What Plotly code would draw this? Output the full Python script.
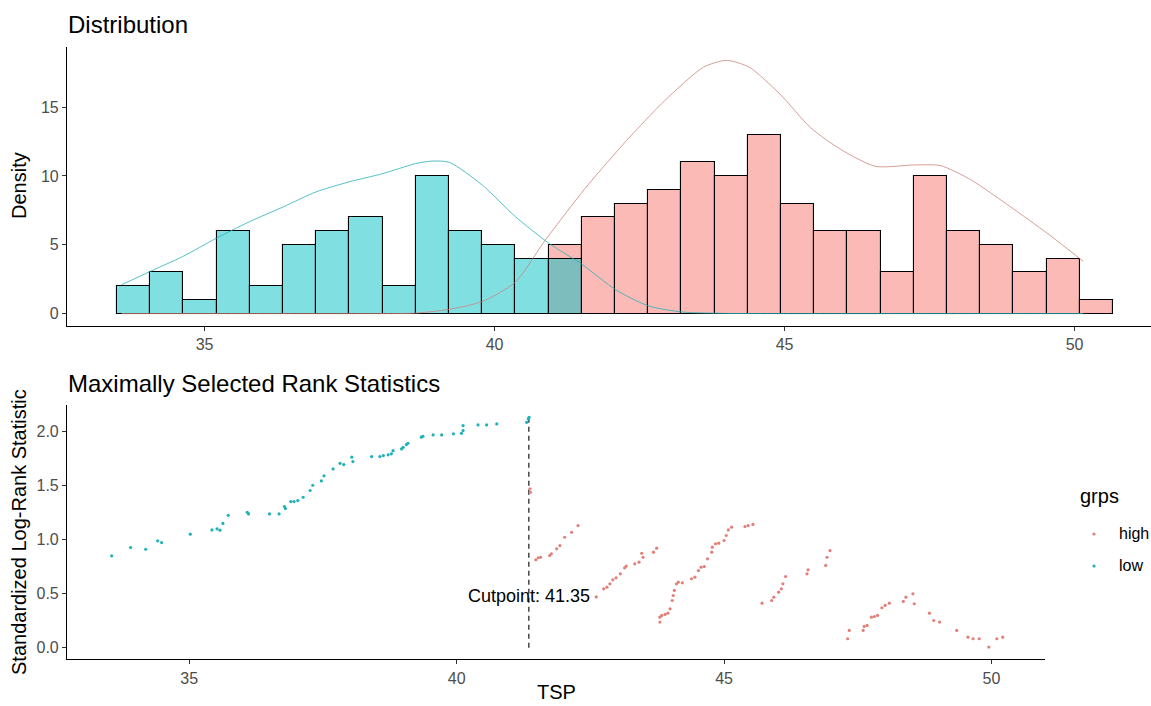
import plotly.graph_objects as go

# ---------------- data ----------------
# Histogram of TSP by group, 30 shared bins
bin_start = 33.49
bin_width = 0.5724
high_counts = [0, 0, 0, 0, 0, 0, 0, 0, 0, 0, 0, 0, 0, 5, 7, 8, 9, 11, 10, 13,
               8, 6, 6, 3, 10, 6, 5, 3, 4, 1]
low_counts = [2, 3, 1, 6, 2, 5, 6, 7, 2, 10, 6, 5, 4, 4, 0, 0, 0, 0, 0, 0,
              0, 0, 0, 0, 0, 0, 0, 0, 0, 0]

# Scaled density curves
high_dens_x = [33.57, 36.0, 37.8, 38.6, 39.2, 39.8, 40.36, 40.85, 41.3, 41.62,
               42.28, 42.94, 43.6, 44.0, 44.39, 44.92, 45.45, 45.98, 46.57,
               47.23, 47.69, 48.22, 48.88, 49.54, 50.15]
high_dens_y = [0.0, 0.0, 0.0, 0.03, 0.3, 0.9, 2.3, 5.2, 7.7, 9.4,
               12.6, 15.5, 17.9, 18.4, 17.9, 15.95, 13.5, 11.9, 10.7,
               10.8, 10.75, 9.7, 7.8, 5.8, 3.8]
low_dens_x = [33.57, 34.06, 34.62, 35.2, 35.77, 36.36, 36.92, 37.49, 38.07,
              38.64, 38.92, 39.22, 39.79, 40.36, 40.94, 41.5, 42.1, 42.66,
              43.23, 43.9, 45.0, 47.5, 50.15]
low_dens_y = [2.1, 3.06, 4.14, 5.47, 6.67, 7.76, 8.84, 9.57, 10.17,
              10.9, 11.08, 10.99, 9.33, 7.04, 5.1, 3.6, 1.7, 0.55,
              0.12, 0.02, 0.0, 0.0, 0.0]

# Standardized log-rank statistic for each candidate cutpoint
low_x = [33.55, 33.905, 34.186, 34.41, 34.485, 35.02, 35.425, 35.52, 35.575,
         35.63, 35.73, 36.085, 36.11, 36.5, 36.68, 36.78, 36.80, 36.9, 36.96,
         37.03, 37.13, 37.26, 37.31, 37.47, 37.52, 37.69, 37.82, 37.89, 38.04,
         38.06, 38.41, 38.565, 38.63, 38.72, 38.78, 38.81, 38.97, 39.0, 39.06,
         39.09, 39.34, 39.37, 39.56, 39.72, 39.94, 40.09, 40.12, 40.12, 40.40,
         40.56, 40.75, 41.31, 41.34, 41.355]
low_y = [0.85, 0.927, 0.911, 0.989, 0.973, 1.05, 1.09, 1.10, 1.087,
         1.15, 1.225, 1.253, 1.238, 1.238, 1.238, 1.306, 1.287, 1.352, 1.352,
         1.361, 1.392, 1.454, 1.503, 1.543, 1.59, 1.654, 1.706, 1.694, 1.762,
         1.722, 1.768, 1.768, 1.777, 1.784, 1.793, 1.823, 1.839, 1.854, 1.879,
         1.891, 1.947, 1.956, 1.968, 1.968, 1.978, 1.983, 2.008, 2.055, 2.061,
         2.061, 2.07, 2.085, 2.116, 2.131]
high_x = [41.37, 41.38, 41.48, 41.525, 41.57, 41.74, 41.77, 41.87, 41.93, 42.02,
          42.15, 42.27,
          42.61, 42.75, 42.81, 42.865, 42.92, 42.98, 43.06, 43.14, 43.17, 43.33,
          43.41, 43.46, 43.485, 43.68, 43.74,
          43.80, 43.80, 43.835, 43.897, 43.95, 43.99, 44.03, 44.05, 44.07,
          44.11, 44.145, 44.22, 44.39, 44.455, 44.52, 44.57, 44.63, 44.69,
          44.77, 44.78, 44.84, 44.90, 45.0, 45.04, 45.08, 45.14, 45.39, 45.45,
          45.54,
          45.71, 45.89, 45.93, 46.02, 46.07, 46.10, 46.15, 46.55, 46.57, 46.90,
          46.925, 46.98,
          47.31, 47.34, 47.60, 47.62, 47.675, 47.755, 47.81, 47.87, 47.95,
          48.01, 48.09, 48.35, 48.40, 48.53, 48.555, 48.84, 48.92, 49.03,
          49.35, 49.56, 49.655, 49.77, 49.95, 50.10, 50.21]
high_y = [1.47, 1.438, 0.813, 0.832, 0.837, 0.853, 0.869, 0.915, 0.945, 1.022,
          1.068, 1.13,
          0.47, 0.545, 0.56, 0.591, 0.628, 0.647, 0.684, 0.739, 0.754, 0.776,
          0.791, 0.874, 0.837, 0.884, 0.921,
          0.237, 0.283, 0.299, 0.308, 0.32, 0.36, 0.437, 0.483, 0.53,
          0.591, 0.607, 0.60, 0.638, 0.653, 0.714, 0.745, 0.751, 0.822,
          0.884, 0.93, 0.961, 0.967, 0.992, 1.038, 1.09, 1.115, 1.121, 1.13,
          1.14,
          0.412, 0.437, 0.468, 0.514, 0.545, 0.591, 0.659, 0.684, 0.721, 0.761,
          0.837, 0.899,
          0.083, 0.16, 0.16, 0.197, 0.206, 0.283, 0.289, 0.299, 0.37,
          0.391, 0.412, 0.428, 0.468, 0.499, 0.407, 0.32, 0.252, 0.237,
          0.16, 0.098, 0.083, 0.083, 0.006, 0.083, 0.098]

cutpoint = 41.35
groups = ["high", "low"]

# ---------------- styling ----------------
W, H = 1151, 706
RED_PT = "rgb(226,128,120)"
CYAN_PT = "rgb(30,178,184)"
FONT = "Liberation Sans, Arial, sans-serif"
TICK_GREY = "#4D4D4D"


def px_x(p):
    return p / W


def px_y(p):
    return 1 - p / H


fig = go.Figure()


def bars(counts, color):
    xs, ys = [], []
    for i, c in enumerate(counts):
        if c > 0:
            xs.append(bin_start + (i + 0.5) * bin_width)
            ys.append(c)
    fig.add_trace(go.Bar(
        x=xs, y=ys, width=bin_width, showlegend=False,
        marker=dict(color=color, line=dict(color="black", width=1.1)),
        xaxis="x", yaxis="y",
    ))


bars(high_counts, "rgba(248,118,109,0.5)")
bars(low_counts, "rgba(0,191,196,0.5)")

fig.add_trace(go.Scatter(
    x=high_dens_x, y=high_dens_y, mode="lines", showlegend=False,
    line=dict(color="rgb(206,132,126)", width=0.8, shape="spline",
              smoothing=0.7),
    xaxis="x", yaxis="y",
))
fig.add_trace(go.Scatter(
    x=low_dens_x, y=low_dens_y, mode="lines", showlegend=False,
    line=dict(color="rgb(40,176,186)", width=0.8, shape="spline",
              smoothing=0.7),
    xaxis="x", yaxis="y",
))

# cutpoint marker line
fig.add_trace(go.Scatter(
    x=[cutpoint, cutpoint], y=[0, max(low_y)], mode="lines", showlegend=False,
    line=dict(color="black", width=1.1, dash="5px,4px"),
    xaxis="x2", yaxis="y2",
))

fig.add_trace(go.Scatter(
    x=high_x, y=high_y, mode="markers", showlegend=False,
    marker=dict(color=RED_PT, size=3.2),
    xaxis="x2", yaxis="y2",
))
fig.add_trace(go.Scatter(
    x=low_x, y=low_y, mode="markers", showlegend=False,
    marker=dict(color=CYAN_PT, size=3.2),
    xaxis="x2", yaxis="y2",
))

axis_common = dict(
    showline=True, linecolor="black", linewidth=1.1,
    ticks="outside", ticklen=4, tickwidth=1.1, tickcolor="#333333",
    tickfont=dict(size=16, color=TICK_GREY, family=FONT),
    showgrid=False, zeroline=False, automargin=False,
)

fig.update_layout(
    width=W, height=H,
    margin=dict(l=0, r=0, t=0, b=0),
    paper_bgcolor="white", plot_bgcolor="white",
    font=dict(family=FONT, color="black"),
    barmode="overlay",
    bargap=0,
    showlegend=False,
    xaxis=dict(domain=[px_x(67), 1.0], range=[32.628, 51.317],
               tickvals=[35, 40, 45, 50], anchor="y", **axis_common),
    yaxis=dict(domain=[px_y(326), px_y(47)], range=[-0.9, 19.37],
               tickvals=[0, 5, 10, 15], anchor="x", **axis_common),
    xaxis2=dict(domain=[px_x(67), px_x(1045)], range=[32.715, 51.0],
                tickvals=[35, 40, 45, 50], anchor="y2", **axis_common),
    yaxis2=dict(domain=[px_y(659.3), px_y(405)], range=[-0.107, 2.245],
                tickvals=[0, 0.5, 1.0, 1.5, 2.0],
                ticktext=["0.0", "0.5", "1.0", "1.5", "2.0"],
                anchor="x2", **axis_common),
)

annotations = [
    dict(text="Distribution", x=px_x(66), y=px_y(24), xanchor="left",
         yanchor="middle", font=dict(size=24)),
    dict(text="Maximally Selected Rank Statistics", x=px_x(66), y=px_y(383),
         xanchor="left", yanchor="middle", font=dict(size=24)),
    dict(text="Density", x=px_x(19), y=px_y(186), textangle=-90,
         xanchor="center", yanchor="middle", font=dict(size=20)),
    dict(text="Standardized Log-Rank Statistic", x=px_x(19), y=px_y(532),
         textangle=-90, xanchor="center", yanchor="middle",
         font=dict(size=20)),
    dict(text="TSP", x=px_x(556), y=px_y(705), xanchor="center",
         yanchor="bottom", font=dict(size=20)),
    # legend for the point colours
    dict(text="grps", x=px_x(1078), y=px_y(496), xanchor="left",
         yanchor="middle", font=dict(size=20)),
]
legend_rows = [533, 565]
for g, row in zip(groups, legend_rows):
    annotations.append(dict(text=g, x=px_x(1117), y=px_y(row), xanchor="left",
                            yanchor="middle", font=dict(size=16)))
for a in annotations:
    a.update(xref="paper", yref="paper", showarrow=False)
    a["font"].update(family=FONT, color="black")
fig.update_layout(annotations=annotations)

for color, row in zip([RED_PT, CYAN_PT], legend_rows):
    r = 1.6
    fig.add_shape(type="circle", xref="paper", yref="paper",
                  x0=px_x(1094 - r), x1=px_x(1094 + r),
                  y0=px_y(row + 1 + r), y1=px_y(row + 1 - r),
                  fillcolor=color, line=dict(width=0))

fig.add_annotation(
    text=f"Cutpoint: {cutpoint}", x=cutpoint, y=0.48, xref="x2", yref="y2",
    showarrow=False, xanchor="center", yanchor="middle",
    font=dict(size=18, family=FONT, color="black"),
)

fig.write_html("out.html")
